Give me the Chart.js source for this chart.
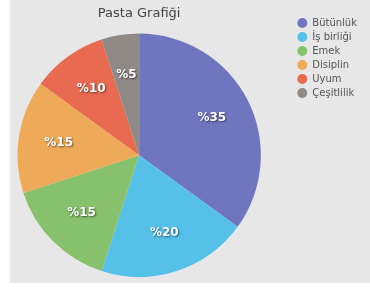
<!DOCTYPE html>
<html>
<head>
<meta charset="utf-8">
<script src="https://cdn.jsdelivr.net/npm/chart.js@4.4.0/dist/chart.umd.min.js"></script>
<style>
  html, body { margin: 0; padding: 0; background: #fff; }
  .box { position: absolute; left: 10px; top: 0; width: 360px; height: 283px; background: #e7e7e7; overflow: hidden; }
  /* canvas is a bit wider than the box so the pie sits left of centre */
  #pie_chart { position: absolute; left: -25px; top: 0; }
</style>
</head>
<body>
<div class="box"><canvas id="pie_chart" width="385" height="283"></canvas></div>
<script>
// data
const labels = ['Bütünlük', 'İş birliği', 'Emek', 'Disiplin', 'Uyum', 'Çeşitlilik']
const values = [35, 20, 15, 15, 10, 5]
const colors = ['#6f76bf', '#55c0e8', '#87c16c', '#eeaa58', '#e86a50', '#8f8a85']

// percent text on each slice
const sliceLabels = {
  id: 'sliceLabels',
  afterDatasetsDraw(chart) {
    const ctx = chart.ctx
    const meta = chart.getDatasetMeta(0)
    ctx.save()
    ctx.font = 'bold 12px "DejaVu Sans"'
    ctx.fillStyle = '#fff'
    ctx.textAlign = 'center'
    ctx.textBaseline = 'middle'
    ctx.shadowColor = 'rgba(0,0,0,0.55)'
    ctx.shadowBlur = 2
    ctx.shadowOffsetX = 1
    ctx.shadowOffsetY = 1
    meta.data.forEach((arc, i) => {
      const p = arc.getProps(['x', 'y', 'startAngle', 'endAngle', 'outerRadius'], true)
      const mid = (p.startAngle + p.endAngle) / 2
      const r = p.outerRadius * 0.67
      ctx.fillText('%' + values[i], p.x + Math.cos(mid) * r, p.y + Math.sin(mid) * r)
    })
    ctx.restore()
  }
}

const ctx = document.getElementById('pie_chart')
new Chart(ctx, {
  type: 'pie',
  data: {
    labels: labels,
    datasets: [{
      data: values,
      backgroundColor: colors,
      borderWidth: 0
    }]
  },
  options: {
    responsive: false,
    animation: false,
    layout: {
      padding: { left: 0, right: 3, top: 0, bottom: 6 }
    },
    plugins: {
      title: {
        display: true,
        text: 'Pasta Grafiği',
        fullSize: false,
        color: '#444',
        font: { family: 'DejaVu Sans', size: 13, weight: 'normal' },
        padding: { top: 6, bottom: 12 }
      },
      legend: {
        position: 'right',
        align: 'start',
        title: {
          display: true,
          text: ' ',
          font: { size: 10 },
          padding: { top: 2, bottom: 0 }
        },
        labels: {
          usePointStyle: true,
          pointStyle: 'circle',
          boxWidth: 10,
          boxHeight: 7,
          padding: 4,
          color: '#555',
          font: { family: 'DejaVu Sans', size: 10 }
        }
      },
      tooltip: { enabled: false }
    }
  },
  plugins: [sliceLabels]
})
</script>
</body>
</html>
